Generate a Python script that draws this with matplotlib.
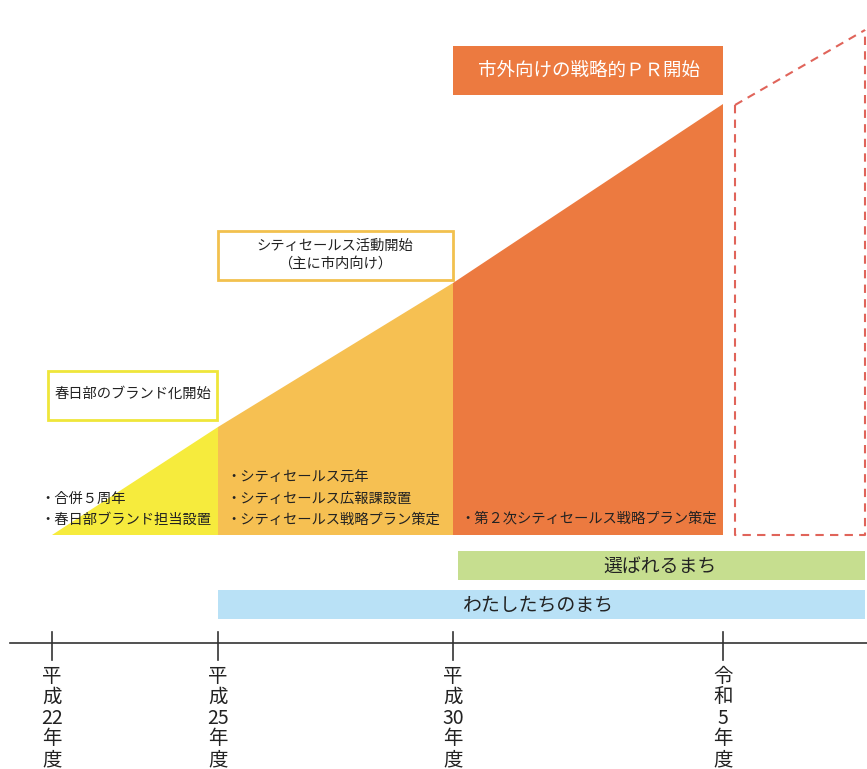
import matplotlib.pyplot as plt
from matplotlib.patches import Polygon, Rectangle

plt.rcParams['font.family'] = ['Noto Sans CJK JP', 'DejaVu Sans']

# timeline stages (x in canvas px, top of the rising area in px)
year_labels = ['平成22年度', '平成25年度', '平成30年度', '令和5年度']
year_chars = [['平', '成', '22', '年', '度'],
              ['平', '成', '25', '年', '度'],
              ['平', '成', '30', '年', '度'],
              ['令', '和', '5', '年', '度']]
stage_x = [52, 218, 453, 723]
stage_top = [535, 427, 283, 104]
base_y = 535
stage_colors = ['#f6eb3d', '#f6c052', '#ec7a40']

stage_notes = [['・合併５周年', '・春日部ブランド担当設置'],
               ['・シティセールス元年', '・シティセールス広報課設置', '・シティセールス戦略プラン策定'],
               ['・第２次シティセールス戦略プラン策定']]
milestones = ['春日部のブランド化開始', 'シティセールス活動開始\n（主に市内向け）', '市外向けの戦略的ＰＲ開始']
slogans = ['選ばれるまち', 'わたしたちのまち']

fig = plt.figure(figsize=(8.67, 7.69), dpi=100)
ax = fig.add_axes([0, 0, 1, 1])
ax.set_xlim(0, 867)
ax.set_ylim(769, 0)
ax.axis('off')

# rising filled segments
for i in range(3):
    x0, x1 = stage_x[i], stage_x[i + 1]
    pts = [(x0, base_y), (x0, stage_top[i]), (x1, stage_top[i + 1]), (x1, base_y)]
    ax.add_patch(Polygon(pts, closed=True, fc=stage_colors[i], ec='none'))

# future (dashed outline)
ax.plot([735, 735, 865, 865], [105, base_y, base_y, 30], ls=(0, (4, 3)), color='#e0645a', lw=1.5)
ax.plot([735, 865], [105, 30], ls=(0, (4, 3)), color='#e0645a', lw=1.5)

# notes inside segments
note_x = [40, 226, 460]
note_bottom = [520, 520, 518]
for i, notes in enumerate(stage_notes):
    for k, t in enumerate(reversed(notes)):
        ax.text(note_x[i], note_bottom[i] - k * 21, t, fontsize=10.3, va='center', ha='left', color='#222222')

# milestone boxes
ax.add_patch(Rectangle((48, 371), 169, 49, fc='white', ec='#efe63a', lw=2))
ax.text(133, 394, milestones[0], fontsize=10.3, ha='center', va='center', color='#222222')
ax.add_patch(Rectangle((218, 231), 235, 49, fc='white', ec='#f2c14e', lw=2))
ax.text(335, 255, milestones[1], fontsize=10.3, ha='center', va='center', color='#222222', linespacing=1.3)
ax.add_patch(Rectangle((453, 46), 270, 49, fc='#ec7a40', ec='none'))
ax.text(589, 71, milestones[2], fontsize=13.3, ha='center', va='center', color='white')

# slogan bars
ax.add_patch(Rectangle((458, 551), 407, 29, fc='#c6de8f', ec='none'))
ax.text(660, 566, slogans[0], fontsize=13.6, ha='center', va='center', color='#222222')
ax.add_patch(Rectangle((218, 590), 647, 29, fc='#b9e1f6', ec='none'))
ax.text(538, 605, slogans[1], fontsize=13.6, ha='center', va='center', color='#222222')

# time axis
ax.plot([10, 867], [643, 643], color='#333333', lw=1.2)
for x, chars in zip(stage_x, year_chars):
    ax.plot([x, x], [632, 660], color='#333333', lw=1.2)
    for k, c in enumerate(chars):
        ax.text(x, 676 + k * 21, c, fontsize=14, ha='center', va='center', color='#222222')

fig.savefig('out.png', dpi=100)
